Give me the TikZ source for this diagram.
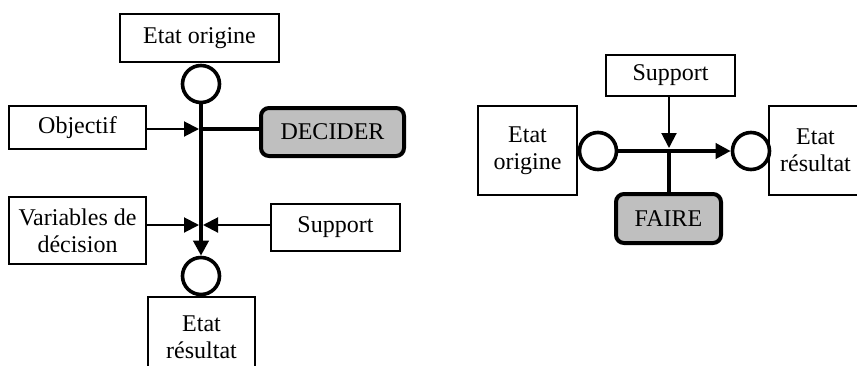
\documentclass[tikz,border=0pt]{standalone}
\usepackage{fontspec}
\setmainfont{Liberation Serif}
\usetikzlibrary{arrows.meta}
\begin{document}
\begin{tikzpicture}[x=0.5pt,y=-0.5pt,
  font=\fontsize{12}{13.6}\selectfont,
  box/.style={draw,line width=0.7pt,rectangle,inner sep=0pt,align=center},
  actbox/.style={draw,line width=2pt,rounded corners=4pt,fill=black!25,inner sep=0pt},
  state/.style={draw,circle,line width=1.8pt,fill=white,inner sep=0pt,minimum size=18.5pt},
  flow/.style={line width=2pt,-{Triangle[length=7.5pt,width=7.5pt]}},
  feed/.style={line width=1pt,-{Triangle[length=7.5pt,width=7.5pt]}},
  link/.style={line width=2pt}]
\clip (0,0) rectangle (857,365);

% ---------- DECIDER ----------
\node[box,minimum width=79.5pt,minimum height=24pt] (eo1) at (199.5,38) {Etat origine};
\node[box,minimum width=68.5pt,minimum height=21.5pt] (obj) at (77.5,127.5) {Objectif};
\node[actbox,minimum width=71.5pt,minimum height=24pt] (dec) at (332.5,132) {DECIDER};
\node[box,minimum width=68.5pt,minimum height=33.5pt] (var) at (77.5,230.5) {Variables de\\décision};
\node[box,minimum width=64.5pt,minimum height=23.5pt] (sup1) at (335.5,227.5) {Support};
\node[box,minimum width=53.5pt,minimum height=40.5pt] (er1) at (201.5,337.5) {Etat\\résultat};
\node[state] (c1) at (201,84) {};
\node[state] (c2) at (201,276) {};

\coordinate (jo) at (201,129);
\coordinate (jv) at (201,225);
\coordinate (jol) at (199,129);
\coordinate (jvl) at (199,225);
\coordinate (jvr) at (203,225);

\draw[flow] (c1.south) -- (c2.north);
\draw[link] (dec.west |- jo) -- (jo);
\draw[feed] (obj.east |- jol) -- (jol);
\draw[feed] (var.east |- jvl) -- (jvl);
\draw[feed] (sup1.west |- jvr) -- (jvr);

% ---------- FAIRE ----------
\node[box,minimum width=64.5pt,minimum height=20.5pt] (sup2) at (670.5,75.5) {Support};
\node[box,minimum width=49.5pt,minimum height=44.5pt] (eo2) at (527.5,150.5) {Etat\\origine};
\node[box,minimum width=46.5pt,minimum height=44.5pt] (er2) at (815.5,150.5) {Etat\\résultat};
\node[actbox,minimum width=52.5pt,minimum height=24.5pt] (faire) at (668.5,218.5) {FAIRE};
\node[state] (c3) at (598,151) {};
\node[state] (c4) at (751,151) {};

\coordinate (js) at (669,148);
\coordinate (jf) at (669,151);

\draw[flow] (c3.east) -- (c4.west);
\draw[feed] (sup2.south -| js) -- (js);
\draw[link] (faire.north -| jf) -- (jf);
\end{tikzpicture}
\end{document}
